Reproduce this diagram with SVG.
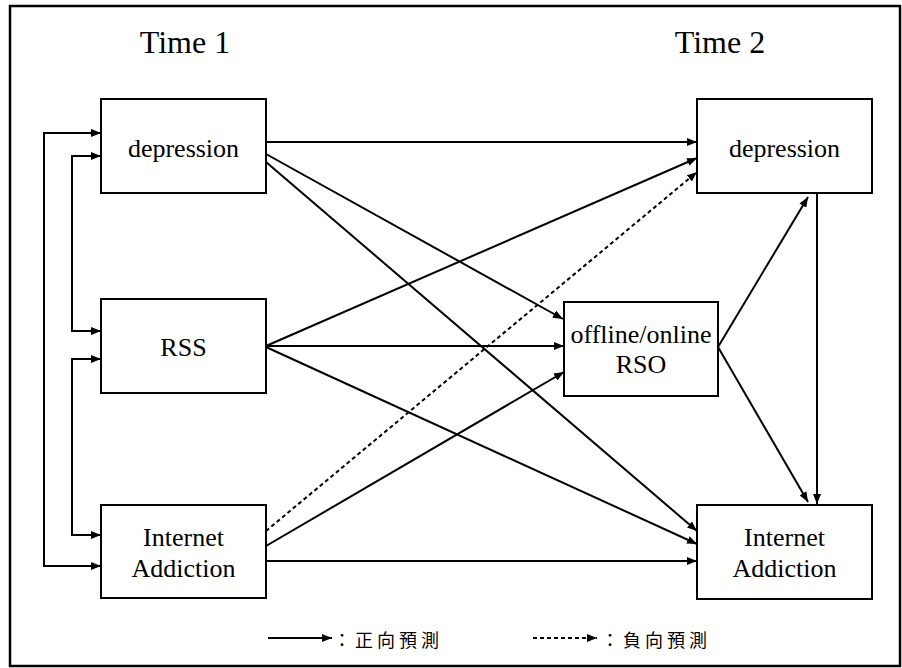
<svg xmlns="http://www.w3.org/2000/svg" width="902" height="668" viewBox="0 0 902 668">
<style>
.box{fill:#fff;stroke:#000;stroke-width:2}
.lbl{font-family:"Liberation Serif","Times New Roman",serif;font-size:26px;fill:#000;text-anchor:middle}
.title{font-family:"Liberation Serif","Times New Roman",serif;font-size:32px;fill:#000;text-anchor:middle}
.c{fill:none;stroke:#000;stroke-width:2;marker-end:url(#ah)}
.b{fill:none;stroke:#000;stroke-width:2;marker-start:url(#ah);marker-end:url(#ah)}
.d{stroke-dasharray:4 3}
.leg{font-family:"Noto Sans CJK TC","Noto Sans CJK SC",sans-serif;font-size:18px;letter-spacing:4px;fill:#000}
</style>
<defs>
<marker id="ah" viewBox="0 0 10 8" refX="10" refY="4" markerWidth="10" markerHeight="8" markerUnits="userSpaceOnUse" orient="auto-start-reverse">
<path d="M0,0 L10,4 L0,8 Z" fill="#000"/>
</marker>
</defs>
<rect x="0" y="0" width="902" height="668" fill="#fff"/>
<rect x="10" y="6" width="890" height="660" fill="none" stroke="#000" stroke-width="2.5"/>
<text class="title" x="185" y="53">Time 1</text>
<text class="title" x="720" y="53">Time 2</text>
<g id="connectors">
<path class="b" d="M101,133 H44 V566 H101"/>
<path class="b" d="M101,156 H72 V331 H101"/>
<path class="b" d="M101,359 H72 V535 H101"/>
<line class="c" x1="266" y1="142" x2="697" y2="142"/>
<line class="c" x1="266" y1="154" x2="563" y2="319"/>
<line class="c" x1="266" y1="162" x2="697" y2="531"/>
<line class="c" x1="266" y1="346" x2="697" y2="158"/>
<line class="c" x1="266" y1="346" x2="564" y2="346"/>
<line class="c" x1="266" y1="347" x2="697" y2="544"/>
<line class="c d" x1="266" y1="531" x2="697" y2="172"/>
<line class="c" x1="266" y1="546" x2="564" y2="372"/>
<line class="c" x1="266" y1="561" x2="697" y2="561"/>
<line class="c" x1="718" y1="347" x2="808" y2="197"/>
<line class="c" x1="718" y1="347" x2="808" y2="502"/>
<line class="c" x1="817" y1="193" x2="817" y2="504"/>
</g>
<g id="dep1"><rect class="box" x="101" y="99" width="165" height="94"/><text class="lbl" x="183.5" y="157">depression</text></g>
<g id="rss1"><rect class="box" x="101" y="299" width="165" height="94"/><text class="lbl" x="183.5" y="356">RSS</text></g>
<g id="ia1"><rect class="box" x="101" y="505" width="165" height="93"/><text class="lbl" x="183.5" y="546">Internet</text><text class="lbl" x="183.5" y="577">Addiction</text></g>
<g id="dep2"><rect class="box" x="697" y="99" width="175" height="94"/><text class="lbl" x="784.5" y="157">depression</text></g>
<g id="rso"><rect class="box" x="564" y="302" width="154" height="94"/><text class="lbl" x="641" y="343">offline/online</text><text class="lbl" x="641" y="373">RSO</text></g>
<g id="ia2"><rect class="box" x="697" y="505" width="175" height="94"/><text class="lbl" x="784.5" y="546">Internet</text><text class="lbl" x="784.5" y="577">Addiction</text></g>
<g id="legend">
<line class="c" x1="268" y1="638" x2="332" y2="638"/>
<text class="leg" x="333" y="647">：正向預測</text>
<line class="c d" x1="533" y1="638" x2="597" y2="638"/>
<text class="leg" x="601" y="647">：負向預測</text>
</g>
</svg>
